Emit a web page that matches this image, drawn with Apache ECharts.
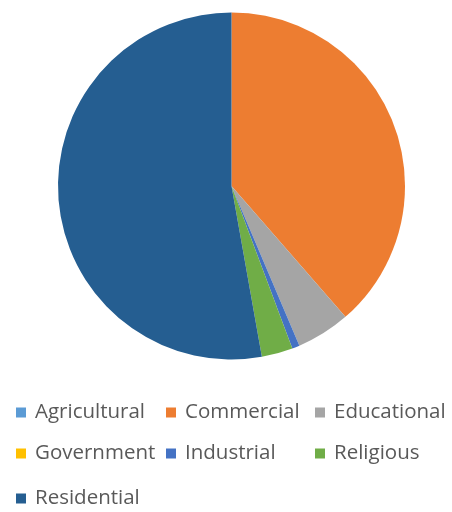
<!DOCTYPE html>
<html>
<head>
<meta charset="utf-8">
<style>html,body{margin:0;padding:0;background:#fff}#c{width:452px;height:512px}</style>
<script src="https://cdn.jsdelivr.net/npm/echarts@6/dist/echarts.min.js"></script>
</head>
<body>
<div id="c"></div>
<script>
const categories = ['Agricultural','Commercial','Educational','Government','Industrial','Religious','Residential'];
const values = [0, 38.6, 5.0, 0, 0.7, 2.9, 52.8];
const colors = ['#5B9BD5','#ED7D31','#A5A5A5','#FFC000','#4472C4','#70AD47','#255E91'];

const chart = echarts.init(document.getElementById('c'), null, {renderer:'canvas'});
const legendPos = [
  [16,402],[166,402],[315,402],
  [16,443],[166,443],[315,443],
  [16,488]
];
const legends = categories.map((name,i)=>({
  data:[name],
  left: legendPos[i][0],
  top: legendPos[i][1],
  padding: 0,
  itemWidth: 10,
  itemHeight: 10,
  icon: 'rect',
  selectedMode: false,
  textStyle: {fontFamily:'Open Sans', fontSize:20.5, color:'#595959', lineHeight:20, padding:[0,0,0,4]}
}));
chart.setOption({
  animation:false,
  color: colors,
  legend: legends,
  series:[{
    type:'pie',
    center:[231.5,186],
    radius:[0,173.5],
    startAngle:90,
    clockwise:true,
    label:{show:false},
    labelLine:{show:false},
    emphasis:{disabled:true},
    itemStyle:{borderWidth:0},
    data: categories.map((n,i)=>({name:n, value:values[i]}))
  }]
});
</script>
</body>
</html>
